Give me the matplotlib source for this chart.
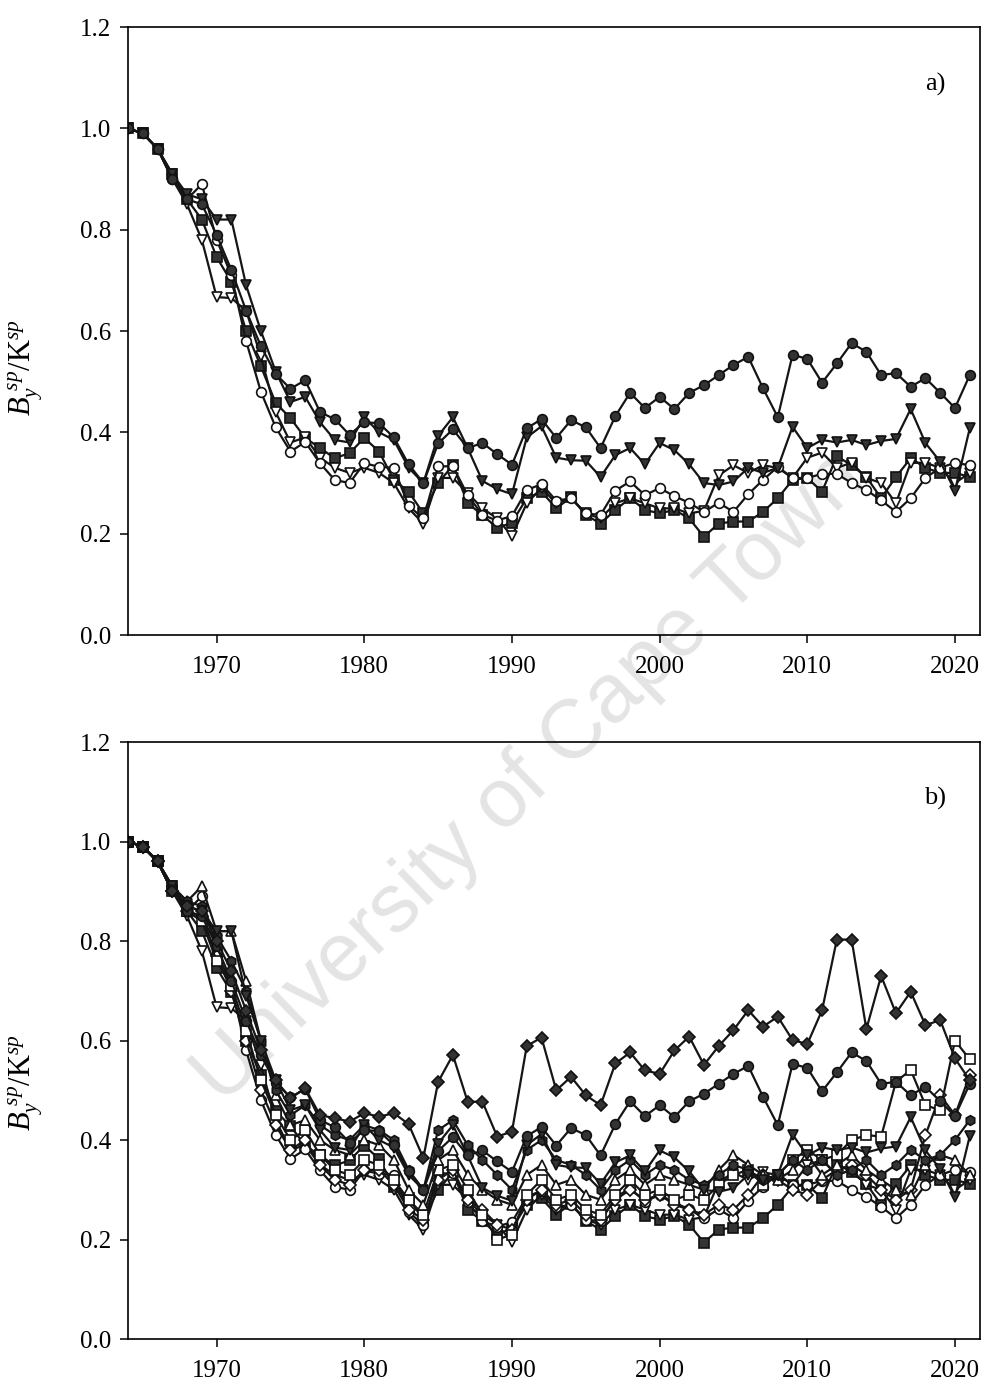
import numpy as np
import matplotlib.pyplot as plt

# years 1964-2021
years = np.arange(1964, 2022)

# spawner biomass relative to pristine, one list per run
circleFilled = [1.00, 0.99, 0.96, 0.90, 0.86, 0.85, 0.79, 0.72, 0.64, 0.57,
                0.515, 0.486, 0.503, 0.44, 0.426, 0.395, 0.42, 0.418, 0.39, 0.337,
                0.30, 0.378, 0.406, 0.369, 0.379, 0.357, 0.336, 0.408, 0.426, 0.389,
                0.424, 0.41, 0.369, 0.432, 0.478, 0.448, 0.47, 0.446, 0.478, 0.493,
                0.513, 0.533, 0.549, 0.487, 0.43, 0.553, 0.545, 0.498, 0.536, 0.576,
                0.559, 0.513, 0.517, 0.49, 0.507, 0.478, 0.448, 0.513]
triDownFilled = [1.00, 0.99, 0.96, 0.91, 0.87, 0.86, 0.82, 0.82, 0.69, 0.60,
                 0.52, 0.46, 0.47, 0.42, 0.385, 0.38, 0.43, 0.40, 0.385, 0.33,
                 0.30, 0.393, 0.43, 0.369, 0.304, 0.288, 0.278, 0.39, 0.412, 0.35,
                 0.345, 0.344, 0.312, 0.355, 0.369, 0.337, 0.379, 0.365, 0.337, 0.30,
                 0.296, 0.303, 0.33, 0.32, 0.33, 0.411, 0.369, 0.385, 0.38, 0.385,
                 0.375, 0.383, 0.387, 0.446, 0.379, 0.342, 0.285, 0.408]
circleOpen = [1.00, 0.99, 0.96, 0.90, 0.86, 0.89, 0.78, 0.71, 0.58, 0.48,
              0.41, 0.362, 0.381, 0.339, 0.306, 0.30, 0.339, 0.332, 0.33, 0.255,
              0.23, 0.333, 0.333, 0.276, 0.237, 0.226, 0.235, 0.286, 0.298, 0.265,
              0.27, 0.24, 0.237, 0.285, 0.303, 0.276, 0.29, 0.274, 0.261, 0.243,
              0.261, 0.243, 0.278, 0.306, 0.332, 0.31, 0.31, 0.318, 0.318, 0.30,
              0.286, 0.266, 0.243, 0.27, 0.31, 0.33, 0.34, 0.335]
squareFilled = [1.00, 0.99, 0.96, 0.91, 0.86, 0.82, 0.746, 0.697, 0.60, 0.53,
                0.458, 0.428, 0.389, 0.369, 0.349, 0.359, 0.389, 0.362, 0.306, 0.283,
                0.24, 0.30, 0.335, 0.26, 0.237, 0.211, 0.222, 0.27, 0.283, 0.25,
                0.272, 0.237, 0.22, 0.247, 0.27, 0.247, 0.24, 0.247, 0.23, 0.194,
                0.22, 0.224, 0.224, 0.243, 0.27, 0.306, 0.31, 0.283, 0.353, 0.335,
                0.312, 0.27, 0.312, 0.349, 0.33, 0.32, 0.32, 0.312]
triDownOpen = [1.00, 0.99, 0.96, 0.90, 0.85, 0.78, 0.667, 0.665, 0.64, 0.55,
               0.44, 0.38, 0.39, 0.35, 0.33, 0.32, 0.33, 0.32, 0.30, 0.25,
               0.22, 0.31, 0.31, 0.28, 0.25, 0.23, 0.195, 0.26, 0.29, 0.26,
               0.27, 0.24, 0.23, 0.26, 0.27, 0.26, 0.25, 0.25, 0.24, 0.245,
               0.315, 0.335, 0.32, 0.335, 0.33, 0.31, 0.35, 0.36, 0.33, 0.34,
               0.31, 0.30, 0.26, 0.34, 0.34, 0.33, 0.30, 0.32]
# extra runs only shown in panel b
diamondFilled = [1.00, 0.99, 0.96, 0.90, 0.87, 0.86, 0.80, 0.74, 0.66, 0.58,
                 0.52, 0.484, 0.504, 0.45, 0.444, 0.437, 0.454, 0.447, 0.454, 0.432,
                 0.364, 0.517, 0.571, 0.477, 0.477, 0.407, 0.417, 0.589, 0.606, 0.50,
                 0.527, 0.49, 0.47, 0.554, 0.576, 0.54, 0.533, 0.58, 0.608, 0.551,
                 0.589, 0.621, 0.661, 0.628, 0.648, 0.601, 0.593, 0.661, 0.803, 0.803,
                 0.623, 0.73, 0.655, 0.698, 0.631, 0.641, 0.564, 0.52]
triUpOpen = [1.00, 0.99, 0.96, 0.91, 0.88, 0.91, 0.82, 0.82, 0.72, 0.60,
             0.49, 0.43, 0.44, 0.40, 0.38, 0.37, 0.40, 0.39, 0.36, 0.30,
             0.27, 0.36, 0.38, 0.33, 0.30, 0.28, 0.27, 0.33, 0.35, 0.31,
             0.32, 0.29, 0.28, 0.32, 0.34, 0.31, 0.33, 0.32, 0.31, 0.30,
             0.34, 0.37, 0.35, 0.33, 0.32, 0.34, 0.37, 0.33, 0.35, 0.37,
             0.34, 0.32, 0.30, 0.29, 0.35, 0.37, 0.36, 0.33]
squareOpen = [1.00, 0.99, 0.96, 0.90, 0.86, 0.84, 0.76, 0.71, 0.62, 0.52,
              0.45, 0.40, 0.42, 0.37, 0.34, 0.33, 0.36, 0.35, 0.32, 0.28,
              0.25, 0.34, 0.35, 0.30, 0.25, 0.20, 0.21, 0.29, 0.32, 0.28,
              0.29, 0.26, 0.25, 0.29, 0.32, 0.29, 0.30, 0.28, 0.29, 0.28,
              0.31, 0.33, 0.34, 0.31, 0.33, 0.36, 0.38, 0.36, 0.37, 0.40,
              0.41, 0.407, 0.517, 0.541, 0.47, 0.46, 0.60, 0.562]
diamondOpen = [1.00, 0.99, 0.96, 0.90, 0.86, 0.85, 0.77, 0.70, 0.60, 0.50,
               0.43, 0.38, 0.40, 0.35, 0.32, 0.31, 0.34, 0.34, 0.31, 0.26,
               0.24, 0.32, 0.34, 0.28, 0.26, 0.23, 0.22, 0.28, 0.30, 0.27,
               0.28, 0.25, 0.24, 0.28, 0.30, 0.28, 0.29, 0.27, 0.26, 0.25,
               0.27, 0.26, 0.29, 0.33, 0.32, 0.30, 0.29, 0.32, 0.34, 0.35,
               0.33, 0.30, 0.28, 0.30, 0.41, 0.49, 0.45, 0.53]
hexFilled = [1.00, 0.99, 0.96, 0.91, 0.88, 0.87, 0.81, 0.76, 0.70, 0.60,
             0.50, 0.45, 0.47, 0.43, 0.41, 0.40, 0.43, 0.42, 0.40, 0.34,
             0.30, 0.42, 0.44, 0.39, 0.36, 0.33, 0.30, 0.38, 0.40, 0.36,
             0.35, 0.33, 0.30, 0.34, 0.36, 0.33, 0.35, 0.34, 0.32, 0.31,
             0.33, 0.35, 0.34, 0.32, 0.33, 0.36, 0.34, 0.36, 0.33, 0.34,
             0.36, 0.33, 0.35, 0.38, 0.36, 0.37, 0.40, 0.44]

dark = '#333333'
# (values, marker, filled)
runsA = [(squareFilled, 's', True), (triDownOpen, 'v', False), (circleOpen, 'o', False),
         (triDownFilled, 'v', True), (circleFilled, 'o', True)]
runsB = [(squareFilled, 's', True), (triDownOpen, 'v', False), (circleOpen, 'o', False),
         (diamondOpen, 'D', False), (squareOpen, 's', False), (triUpOpen, '^', False),
         (hexFilled, 'h', True), (triDownFilled, 'v', True), (circleFilled, 'o', True),
         (diamondFilled, 'D', True)]

plt.rcParams['font.family'] = ['Liberation Serif', 'DejaVu Serif']
plt.rcParams['mathtext.fontset'] = 'custom'
plt.rcParams['mathtext.rm'] = 'Liberation Serif'
plt.rcParams['mathtext.it'] = 'Liberation Serif:italic'

fig = plt.figure(figsize=(9.87, 13.85), dpi=100)
axA = fig.add_axes([0.1297, 0.5415, 0.8633, 0.439])
axB = fig.add_axes([0.1297, 0.0332, 0.8633, 0.431])


def drawPanel(ax, runs, tag, labelY):
    for vals, mk, filled in runs:
        size = 6.0 if mk == 'D' else 7.0
        ax.plot(years, vals, color='#151515', lw=1.6, marker=mk, ms=size,
                mfc=dark if filled else 'white', mec='#111111', mew=1.2)
    ax.set_xlim(1964, 2021.7)
    ax.set_ylim(0, 1.2)
    ax.set_xticks([1970, 1980, 1990, 2000, 2010, 2020])
    ax.set_yticks(np.arange(0, 1.21, 0.2))
    ax.set_yticklabels(['%.1f' % v for v in np.arange(0, 1.21, 0.2)])
    ax.tick_params(direction='out', length=6, width=1.1, labelsize=18, pad=6)
    ax.tick_params(axis='x', pad=9)
    for s in ax.spines.values():
        s.set_linewidth(1.2)
    ax.set_facecolor('none')
    ax.set_ylabel(r'$B_y^{\ sp}/\mathrm{K}^{sp}$', fontsize=22)
    ax.yaxis.set_label_coords(-0.098, labelY)
    ax.text(0.947, 0.905, tag, transform=ax.transAxes, fontsize=19, ha='center', va='center')


drawPanel(axA, runsA, 'a)', 0.44)
drawPanel(axB, runsB, 'b)', 0.43)

# watermark behind both panels
fig.text(0.537, 0.438, 'University of Cape Town', family='Liberation Sans', fontsize=60,
         color='#e4e4e4', rotation=44, ha='center', va='center', zorder=-1)

plt.savefig('out.png', dpi=100)
